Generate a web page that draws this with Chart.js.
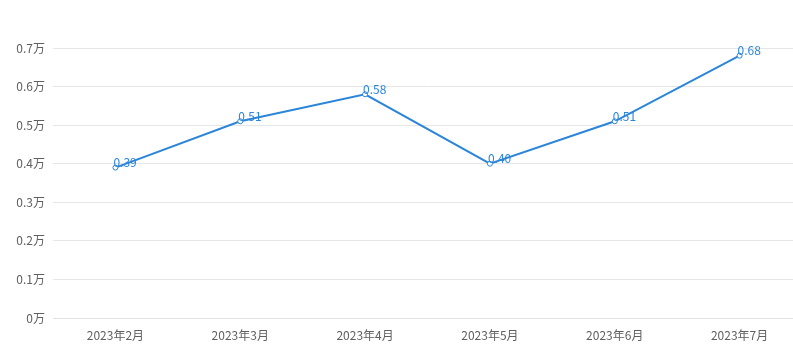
<!DOCTYPE html>
<html>
<head>
<meta charset="utf-8">
<script src="https://cdn.jsdelivr.net/npm/chart.js@4/dist/chart.umd.min.js"></script>
<style>
html,body{margin:0;padding:0;background:#fff;overflow:hidden;width:793px;height:358px;}
#wrap{width:807px;height:358px;position:absolute;left:0;top:0;}
#c{width:807px !important;height:358px !important;display:block;}
</style>
</head>
<body>
<div id="wrap"><canvas id="c" width="807" height="358"></canvas></div>
<script>
const categories = ['2023年2月','2023年3月','2023年4月','2023年5月','2023年6月','2023年7月'];
const values = [0.39, 0.51, 0.58, 0.40, 0.51, 0.68];
const labelTexts = ['0.39','0.51','0.58','0.40','0.51','0.68'];
const yTicks = [0, 0.1, 0.2, 0.3, 0.4, 0.5, 0.6, 0.7];

const FONT = '"Noto Sans CJK SC", "Noto Sans", sans-serif';
const LINE = '#2b85d9';

const labelPlugin = {
  id: 'pointLabels',
  afterDatasetsDraw(chart) {
    const ctx = chart.ctx;
    const meta = chart.getDatasetMeta(0);
    ctx.save();
    ctx.font = '12px ' + FONT;
    ctx.fillStyle = LINE;
    ctx.textAlign = 'left';
    ctx.textBaseline = 'bottom';
    meta.data.forEach((pt, i) => {
      ctx.fillText(labelTexts[i], pt.x - 2, pt.y + 1);
    });
    ctx.restore();
  }
};

new Chart(document.getElementById('c'), {
  type: 'line',
  data: {
    labels: categories,
    datasets: [{
      data: values,
      borderColor: LINE,
      borderWidth: 2,
      pointRadius: 2.5,
      pointBorderWidth: 1,
      pointBackgroundColor: '#fff',
      pointBorderColor: LINE,
      tension: 0,
      fill: false
    }]
  },
  options: {
    responsive: false,
    maintainAspectRatio: false,
    animation: false,
    events: [],
    layout: { padding: { top: 48, right: 0, left: 0, bottom: 0 } },
    plugins: { legend: { display: false }, tooltip: { enabled: false } },
    scales: {
      x: {
        offset: true,
        grid: { display: false, drawTicks: false },
        border: { display: true, color: '#e3e3e3', width: 1 },
        ticks: { color: '#606060', font: { size: 12, family: FONT }, padding: 10, maxRotation: 0, autoSkip: false },
        afterFit(s) { s.height = 40; }
      },
      y: {
        min: 0, max: 0.7,
        afterBuildTicks(s) { s.ticks = yTicks.map(v => ({ value: v })); },
        grid: { color: '#e6e6e6', drawTicks: false },
        border: { display: false },
        ticks: {
          color: '#606060', font: { size: 12, family: FONT }, padding: 8,
          callback: v => (Math.round(v * 10) / 10) + '万'
        },
        afterFit(s) { s.width = 53; }
      }
    }
  },
  plugins: [labelPlugin]
});
</script>
</body>
</html>
